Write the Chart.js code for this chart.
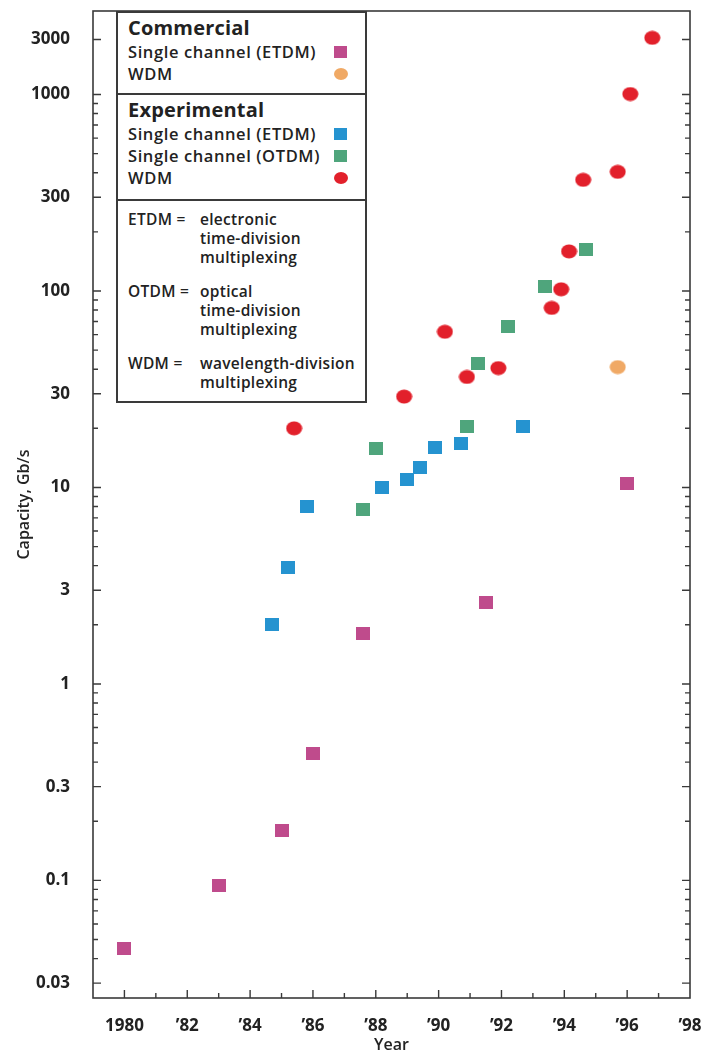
<!DOCTYPE html>
<html>
<head>
<meta charset="utf-8">
<script src="https://cdn.jsdelivr.net/npm/chart.js@4.4.1/dist/chart.umd.min.js"></script>
<style>
  body { margin: 0; background: #fff; }
  #wrap { position: relative; width: 707px; height: 1055px; }
  #legend {
    position: absolute; left: 116px; top: 11px; width: 251px; height: 392px;
    box-sizing: border-box; border: 2px solid #3a3a3a; background: #fff;
    font-family: "Open Sans", sans-serif; color: #222;
  }
  #legend .sec { border-top: 2px solid #3a3a3a; padding: 2px 0 0 10px; }
  #legend .sec:first-child { border-top: none; }
  #legend .head { font-size: 20px; font-weight: 700; line-height: 26px; letter-spacing: 0.2px; }
  #legend .item { position: relative; font-size: 16.5px; font-weight: 600; line-height: 22px; letter-spacing: 0.6px; }
  #legend .sw { position: absolute; left: 206px; top: 5px; width: 13px; height: 12px; }
  #legend .sw.circle { width: 14px; border-radius: 50%; }
  #legend .note { display: flex; font-size: 15.5px; font-weight: 600; line-height: 19px; margin-top: 15px; letter-spacing: 0.3px; }
  #legend .note:first-child { margin-top: 0; }
  #legend .note .term { width: 72px; flex: none; }
</style>
</head>
<body>
<div id="wrap">
  <canvas id="chart" width="707" height="1055"></canvas>
  <div id="legend"></div>
</div>
<script>
// Commercial systems
const commEtdmYears = [1980.0, 1983.0, 1985.0, 1986.0, 1987.6, 1991.5, 1996.0];
const commEtdmGbps  = [0.045, 0.094, 0.18, 0.44, 1.8, 2.6, 10.5];
const commWdmYears  = [1995.7];
const commWdmGbps   = [41];

// Experimental systems
const expEtdmYears = [1984.7, 1985.2, 1985.8, 1988.2, 1989.0, 1989.4, 1989.9, 1990.7, 1992.7];
const expEtdmGbps  = [2.0, 3.9, 8.0, 10, 11, 12.6, 16, 16.8, 20.5];
const expOtdmYears = [1987.6, 1988.0, 1990.9, 1991.25, 1992.2, 1993.4, 1994.7];
const expOtdmGbps  = [7.7, 15.8, 20.5, 42.6, 66, 105, 162];
const expWdmYears  = [1985.4, 1988.9, 1990.2, 1990.9, 1991.9, 1993.6, 1993.9, 1994.15, 1994.6, 1995.7, 1996.1, 1996.8];
const expWdmGbps   = [20, 29, 62, 36.5, 40.5, 82, 102, 159, 368, 404, 1010, 3100];

// axes
const xTickYears  = [1980, 1982, 1984, 1986, 1988, 1990, 1992, 1994, 1996, 1998];
const xTickLabels = ['1980', '\u201982', '\u201984', '\u201986', '\u201988', '\u201990', '\u201992', '\u201994', '\u201996', '\u201998'];
const yTickValues = [0.03, 0.1, 0.3, 1, 3, 10, 30, 100, 300, 1000, 3000];
const yTickLabels = ['0.03', '0.1', '0.3', '1', '3', '10', '30', '100', '300', '1000', '3000'];

const legendNotes = [
  ['ETDM =', ['electronic', 'time-division', 'multiplexing']],
  ['OTDM =', ['optical', 'time-division', 'multiplexing']],
  ['WDM =', ['wavelength-division', 'multiplexing']]
];

const FONT = '"Open Sans", sans-serif';
const INK = '#3a3a3a';

// the printed axis squeezes the range above 1000 Gb/s
const SQUEEZE = 0.587;
function toAxis(v) {
  const l = Math.log10(v);
  return l <= 3 ? l : 3 + (l - 3) * SQUEEZE;
}
function fromAxis(t) {
  return t <= 3 ? Math.pow(10, t) : Math.pow(10, 3 + (t - 3) / SQUEEZE);
}

class SqueezedLogScale extends Chart.LogarithmicScale {
  getPixelForValue(value) {
    const lo = toAxis(this.min), hi = toAxis(this.max);
    return this.getPixelForDecimal((toAxis(value) - lo) / (hi - lo));
  }
  getValueForPixel(pixel) {
    const lo = toAxis(this.min), hi = toAxis(this.max);
    return fromAxis(lo + this.getDecimalForPixel(pixel) * (hi - lo));
  }
}
SqueezedLogScale.id = 'squeezedLog';
SqueezedLogScale.defaults = Chart.LogarithmicScale.defaults;
Chart.register(SqueezedLogScale);

function marker(shape, color, w, h) {
  const c = document.createElement('canvas');
  c.width = w; c.height = h;
  const g = c.getContext('2d');
  g.fillStyle = color;
  if (shape === 'circle') {
    g.beginPath();
    g.ellipse(w / 2, h / 2, w / 2 - 0.5, h / 2 - 0.5, 0, 0, Math.PI * 2);
    g.fill();
  } else {
    g.fillRect(0, 0, w, h);
  }
  return c;
}

function pts(xs, ys) {
  return xs.map((x, i) => ({ x: x, y: ys[i] }));
}

function series(label, group, shape, color, xs, ys) {
  const w = shape === 'circle' ? 17 : 14;
  const h = shape === 'circle' ? 15 : 13;
  return {
    label: label, group: group, shape: shape, color: color,
    data: pts(xs, ys),
    pointStyle: marker(shape, color, w, h),
    backgroundColor: color,
    showLine: false
  };
}

// minor ticks: 2,4..9 of each decade, none above 1000
const yMinor = [];
[0.01, 0.1, 1, 10, 100].forEach(d => {
  [2, 4, 5, 6, 7, 8, 9].forEach(m => {
    const v = +(m * d).toPrecision(2);
    if (v > 0.03) yMinor.push(v);
  });
});

const frameTicks = {
  id: 'frameTicks',
  afterDraw(chart) {
    const { ctx, chartArea: a, scales: { x, y } } = chart;
    ctx.save();
    ctx.strokeStyle = INK;
    ctx.lineWidth = 1.6;
    ctx.strokeRect(a.left, a.top, a.right - a.left, a.bottom - a.top);
    ctx.lineWidth = 1.4;
    ctx.beginPath();
    const yTick = (v, len) => {
      const py = y.getPixelForValue(v);
      ctx.moveTo(a.left, py); ctx.lineTo(a.left + len, py);
      ctx.moveTo(a.right, py); ctx.lineTo(a.right - len, py);
    };
    yTickValues.forEach(v => yTick(v, 8));
    yMinor.forEach(v => yTick(v, 5));
    for (let yr = 1980; yr < 1998; yr++) {
      const px = x.getPixelForValue(yr);
      ctx.moveTo(px, a.bottom); ctx.lineTo(px, a.bottom - (yr % 2 === 0 ? 8 : 5));
    }
    ctx.stroke();
    ctx.restore();
  }
};

const chart = new Chart(document.getElementById('chart'), {
  type: 'scatter',
  data: {
    datasets: [
      series('Single channel (ETDM)', 'Commercial', 'square', '#bf4b8c', commEtdmYears, commEtdmGbps),
      series('WDM', 'Commercial', 'circle', '#f0a965', commWdmYears, commWdmGbps),
      series('Single channel (ETDM)', 'Experimental', 'square', '#2593d0', expEtdmYears, expEtdmGbps),
      series('Single channel (OTDM)', 'Experimental', 'square', '#4fa57c', expOtdmYears, expOtdmGbps),
      series('WDM', 'Experimental', 'circle', '#e2202b', expWdmYears, expWdmGbps)
    ]
  },
  options: {
    responsive: false,
    animation: false,
    devicePixelRatio: 1,
    events: [],
    layout: { padding: { top: 11, right: 17, left: 0, bottom: 0 } },
    plugins: { legend: { display: false }, tooltip: { enabled: false } },
    scales: {
      x: {
        type: 'linear', min: 1979, max: 1998,
        grid: { display: false }, border: { display: false },
        afterBuildTicks: s => { s.ticks = xTickYears.map(v => ({ value: v })); },
        afterFit: s => { s.height = 57; s.paddingLeft = 0; s.paddingRight = 0; },
        ticks: {
          padding: 10, autoSkip: false, maxRotation: 0, color: '#222',
          font: { family: FONT, size: 17, weight: '700' },
          callback: (v, i) => xTickLabels[i]
        },
        title: {
          display: true, text: 'Year', color: '#222',
          font: { family: FONT, size: 16, weight: '600' },
          padding: { top: 0, bottom: 0 }
        }
      },
      y: {
        type: 'squeezedLog', min: 0.0252, max: 5300, bounds: 'data',
        grid: { display: false }, border: { display: false },
        afterBuildTicks: s => { s.ticks = yTickValues.map(v => ({ value: v })); },
        afterFit: s => { s.width = 93; s.paddingTop = 0; s.paddingBottom = 0; },
        ticks: {
          padding: 15, autoSkip: false, color: '#222',
          font: { family: FONT, size: 17, weight: '700' },
          callback: (v, i) => yTickLabels[i]
        },
        title: {
          display: true, text: 'Capacity, Gb/s', color: '#222',
          font: { family: FONT, size: 16, weight: '600' },
          padding: { top: 15, bottom: 0 }
        }
      }
    }
  },
  plugins: [frameTicks]
});

// legend box built from the datasets
const legend = document.getElementById('legend');
['Commercial', 'Experimental'].forEach(group => {
  const sec = document.createElement('div');
  sec.className = 'sec';
  sec.style.paddingBottom = group === 'Commercial' ? '8px' : '10px';
  sec.innerHTML = '<div class="head">' + group + '</div>';
  chart.data.datasets.filter(d => d.group === group).forEach(d => {
    const row = document.createElement('div');
    row.className = 'item';
    row.textContent = d.label;
    const sw = document.createElement('span');
    sw.className = 'sw ' + d.shape;
    sw.style.background = d.color;
    row.appendChild(sw);
    sec.appendChild(row);
  });
  legend.appendChild(sec);
});
const notes = document.createElement('div');
notes.className = 'sec';
notes.style.paddingTop = '9px';
legendNotes.forEach(([term, lines]) => {
  const n = document.createElement('div');
  n.className = 'note';
  n.innerHTML = '<span class="term">' + term + '</span><span>' + lines.join('<br>') + '</span>';
  notes.appendChild(n);
});
legend.appendChild(notes);
</script>
</body>
</html>
